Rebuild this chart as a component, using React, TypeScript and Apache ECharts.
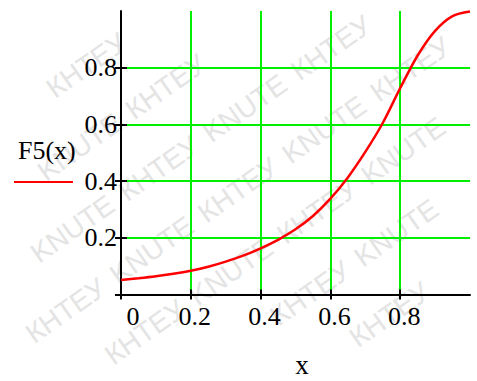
import React, { useEffect, useRef } from "react";
import * as echarts from "echarts";

const xValues = [0, 0.05, 0.1, 0.15, 0.2, 0.25, 0.3, 0.35, 0.4, 0.45, 0.5, 0.55, 0.6, 0.65, 0.7, 0.75, 0.8, 0.85, 0.9, 0.95, 1.0];
const f5Values = [0.051, 0.057, 0.064, 0.073, 0.084, 0.098, 0.116, 0.137, 0.163, 0.193, 0.23, 0.277, 0.338, 0.413, 0.503, 0.605, 0.728, 0.843, 0.93, 0.982, 0.998];
const xTickValues = [0, 0.2, 0.4, 0.6, 0.8];
const yTickValues = [0, 0.2, 0.4, 0.6, 0.8];
const xLabelValues = [0, 0.2, 0.4, 0.6, 0.8];
const yLabelValues = [0.2, 0.4, 0.6, 0.8];
const seriesName = "F5(x)";
const xAxisTitle = "x";
const watermarkWords = ["КНТЕУ", "KNUTE"];

const FONT = "serif";
const W = 477;
const H = 381;

export default function App() {
  const ref = useRef<HTMLDivElement>(null);
  useEffect(() => {
    const chart = echarts.init(ref.current!, null, { renderer: "svg" });
    const tickStyle = { color: "#000", width: 2 };
    const gridStyle = { color: "#00ee00", width: 2 };
    const fmt = (v: number) => String(Number(v.toFixed(1)));

    // faint diagonal watermark, each word kept fully inside the picture
    const ang = (35 * Math.PI) / 180;
    const dx = Math.cos(ang), dy = -Math.sin(ang);
    const pxv = Math.sin(ang), pyv = Math.cos(ang);
    const fs = 28;
    const wordW = 3.4 * fs;
    const halfW = (wordW * Math.cos(ang) + fs * Math.sin(ang)) / 2 + 1;
    const halfH = (wordW * Math.sin(ang) + fs * Math.cos(ang)) / 2 + 1;
    const rowGap = 63;
    const step = wordW + 10;
    const watermark: any[] = [];
    for (let k = -8; k <= 8; k++) {
      for (let j = -8; j <= 8; j++) {
        const off = (k % 2) * 0.5;
        const cx = 238 + k * rowGap * pxv + (j + off) * step * dx;
        const cy = 190 + k * rowGap * pyv + (j + off) * step * dy;
        if (cx - halfW < 0 || cx + halfW > W || cy - halfH < 0 || cy + halfH > H) continue;
        watermark.push({
          type: "text",
          x: cx,
          y: cy,
          rotation: ang,
          z: -10,
          silent: true,
          style: {
            text: watermarkWords[((j % 2) + 2) % 2],
            fontFamily: "Liberation Sans",
            fontSize: fs,
            fill: "#e4e4e4",
            align: "center",
            verticalAlign: "middle",
          },
        });
      }
    }

    chart.setOption({
      animation: false,
      backgroundColor: "#ffffff",
      textStyle: { fontFamily: FONT },
      grid: { left: 121, top: 11, right: 7, bottom: 86.5, containLabel: false },
      xAxis: [
        {
          type: "value", min: 0, max: 1, interval: 0.2, position: "bottom",
          axisLine: { show: true, onZero: false, lineStyle: { color: "#000", width: 2 } },
          axisTick: { show: true, inside: false, length: 5, customValues: xTickValues, lineStyle: tickStyle },
          axisLabel: {
            customValues: xLabelValues, margin: 9, color: "#000", fontFamily: FONT, fontSize: 26,
            formatter: (v: number) => (v === 0 ? "{z|0}" : `{a|${fmt(v)}}`),
            rich: {
              a: { fontFamily: FONT, fontSize: 26, color: "#000", padding: [0, 0, 0, 8] },
              z: { fontFamily: FONT, fontSize: 26, color: "#000", padding: [0, 0, 0, 24] },
            },
          },
          splitLine: { show: true, showMinLine: false, showMaxLine: true, lineStyle: gridStyle },
        },
        {
          type: "value", min: 0, max: 1, interval: 0.2, position: "bottom",
          axisLine: { show: false },
          axisTick: { show: true, inside: true, length: 5, customValues: xTickValues, lineStyle: tickStyle },
          axisLabel: { show: false },
          splitLine: { show: false },
        },
      ],
      yAxis: [
        {
          type: "value", min: 0, max: 1, interval: 0.2, position: "left",
          axisLine: { show: true, onZero: false, lineStyle: { color: "#000", width: 2 } },
          axisTick: { show: true, inside: false, length: 6, customValues: yTickValues, lineStyle: tickStyle },
          axisLabel: {
            customValues: yLabelValues, margin: 4, color: "#000", fontFamily: FONT, fontSize: 26,
            padding: [8, 0, 0, 0],
            formatter: (v: number) => fmt(v),
          },
          splitLine: { show: true, showMinLine: false, showMaxLine: true, lineStyle: gridStyle },
        },
        {
          type: "value", min: 0, max: 1, interval: 0.2, position: "left",
          axisLine: { show: false },
          axisTick: { show: true, inside: true, length: 6, customValues: yTickValues, lineStyle: tickStyle },
          axisLabel: { show: false },
          splitLine: { show: false },
        },
      ],
      series: [
        {
          name: seriesName,
          type: "line",
          xAxisIndex: 0,
          yAxisIndex: 0,
          data: xValues.map((x, i) => [x, f5Values[i]]),
          showSymbol: false,
          symbol: "none",
          smooth: 0.3,
          lineStyle: { color: "#ff0000", width: 2.5 },
          z: 5,
        },
      ],
      graphic: [
        ...watermark,
        {
          type: "text", left: 18, top: 137,
          style: { text: seriesName, fontFamily: FONT, fontSize: 26, fill: "#000" },
        },
        {
          type: "line",
          shape: { x1: 14, y1: 182, x2: 73, y2: 182 },
          style: { stroke: "#ff0000", lineWidth: 2 },
        },
        {
          type: "text", x: 302, y: 365,
          style: { text: xAxisTitle, fontFamily: FONT, fontSize: 27, fill: "#000", align: "center", verticalAlign: "middle" },
        },
      ],
    });
    return () => chart.dispose();
  }, []);
  return <div ref={ref} style={{ width: W, height: H, position: "absolute", left: 0, top: 0 }} />;
}
